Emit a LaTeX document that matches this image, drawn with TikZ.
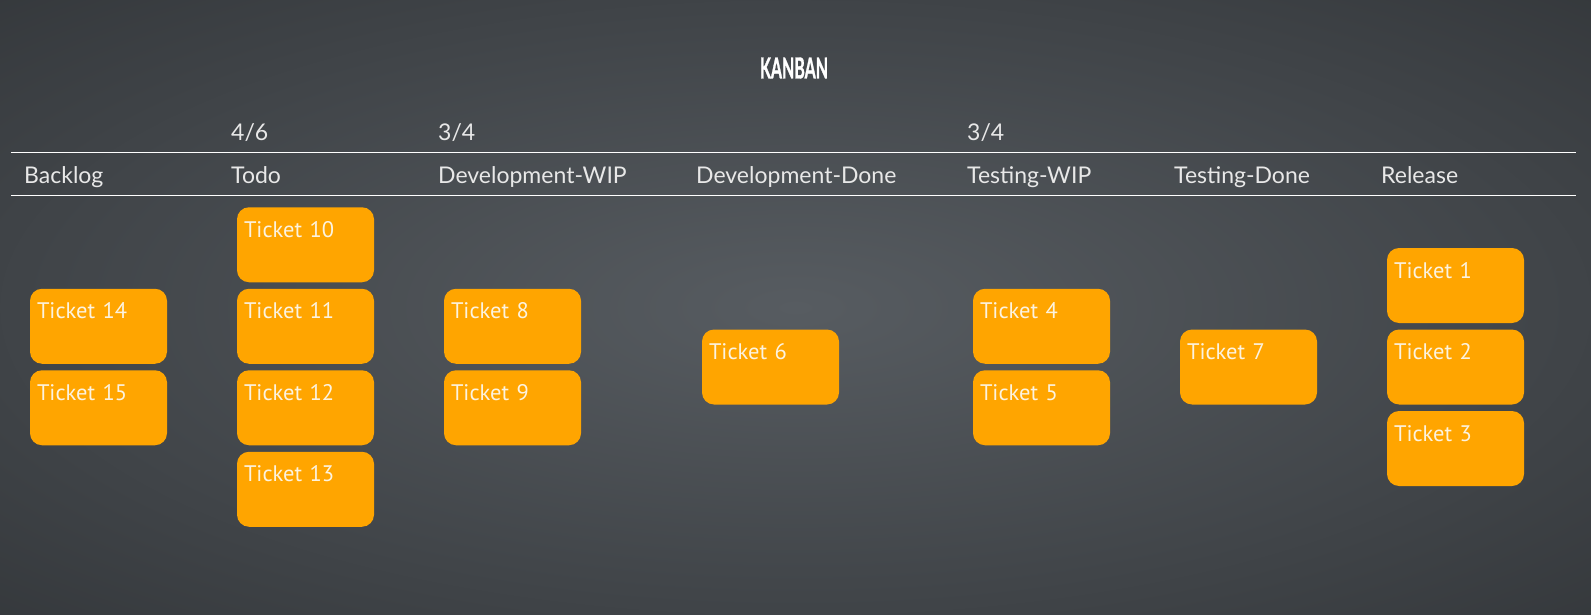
\documentclass[tikz,border=0pt]{standalone}
\usepackage{fontspec}
\usepackage{graphicx}
\setmainfont{Lato}
\newfontfamily\ticketfont{PT Sans}
\definecolor{boardinner}{HTML}{575C61}
\definecolor{boardouter}{HTML}{282B2E}
\definecolor{ticketfill}{HTML}{FFA500}
\definecolor{ticketink}{HTML}{FCF3E0}
\definecolor{headink}{HTML}{E8E8E8}
\pgfdeclareradialshading{board}{\pgfpoint{0bp}{0bp}}{color(0bp)=(boardinner); color(50bp)=(boardouter)}

\begin{document}
\begin{tikzpicture}[x=1pt, y=-1pt, node distance={81.5pt},
    head/.style = {anchor=base west, inner sep=0pt, text=headink, font=\fontsize{23}{25}\selectfont},
    ticket/.style = {fill=ticketfill, rounded corners=12pt, text=ticketink, font=\ticketfont\fontsize{22.5}{24}\selectfont,
        align=left, text width=123pt, inner xsep=7pt, inner ysep=8pt, text height=22pt, text depth=37pt}]
    \useasboundingbox (0,0) rectangle (1591,615);
    \shade[shading=board] (0,0) rectangle (1591,615);
    \node[inner sep=0pt, text=white, font=\bfseries\addfontfeatures{FakeBold=1.5}\fontsize{29}{30}\selectfont] (kanban) at (794,68) {\scalebox{0.55}[1]{KANBAN}};
    % column heads
    \node[head] (backlog) at (24,183) {Backlog};
    \node[head] (todo) at (231,183) {Todo};
    \node[head] (devwip) at (438,183) {Development-WIP};
    \node[head] (devdone) at (696,183) {Development-Done};
    \node[head] (testwip) at (967,183) {Testing-WIP};
    \node[head] (testdone) at (1174,183) {Testing-Done};
    \node[head] (release) at (1381,183) {Release};
    \node[head] (lim-todo) at (231,141) {4/6};
    \node[head] (lim-devwip) at (438,141) {3/4};
    \node[head] (lim-testwip) at (967,141) {3/4};
    \draw[white, line width=1pt] (11,153) -- (1576,153);
    \draw[white, line width=1pt] (11,195) -- (1576,195);
    % tickets
    \node[ticket] (t14) at (98.5,326.25) {Ticket 14};
    \node[ticket, below of=t14] (t15) {Ticket 15};
    \node[ticket] (t10) at (305.5,244.75) {Ticket 10};
    \node[ticket, below of=t10] (t11) {Ticket 11};
    \node[ticket, below of=t11] (t12) {Ticket 12};
    \node[ticket, below of=t12] (t13) {Ticket 13};
    \node[ticket] (t8) at (512.5,326.25) {Ticket 8};
    \node[ticket, below of=t8] (t9) {Ticket 9};
    \node[ticket] (t6) at (770.5,367) {Ticket 6};
    \node[ticket] (t4) at (1041.5,326.25) {Ticket 4};
    \node[ticket, below of=t4] (t5) {Ticket 5};
    \node[ticket] (t7) at (1248.5,367) {Ticket 7};
    \node[ticket] (t1) at (1455.5,285.5) {Ticket 1};
    \node[ticket, below of=t1] (t2) {Ticket 2};
    \node[ticket, below of=t2] (t3) {Ticket 3};
\end{tikzpicture}
\end{document}
